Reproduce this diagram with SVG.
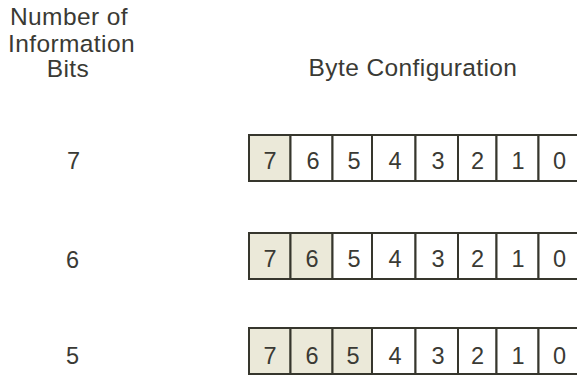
<svg xmlns="http://www.w3.org/2000/svg" width="577" height="377" viewBox="0 0 577 377">
  <defs>
    <style>
      .lbl { font-family: "Liberation Sans", Arial, sans-serif; font-size: 24.5px; letter-spacing: 0.4px; fill: #3a3a34; text-anchor: middle; }
      .dig { font-family: "Liberation Sans", Arial, sans-serif; font-size: 23.5px; fill: #3a3a34; text-anchor: middle; }
      .cell { fill: #ffffff; stroke: #36362d; stroke-width: 2; }
      .cell.on { fill: #ebe9d9; }
    </style>
  </defs>
  <rect width="577" height="377" fill="#ffffff"/>

  <!-- column headings -->
  <g id="heading-bits">
    <text class="lbl" x="69" y="25">Number of</text>
    <text class="lbl" x="71.5" y="52">Information</text>
    <text class="lbl" x="68" y="77">Bits</text>
  </g>
  <g id="heading-byte">
    <text class="lbl" x="413" y="76">Byte Configuration</text>
  </g>

  <!-- bit counts -->
  <g id="count-7"><text class="dig" x="73.5" y="168.5">7</text></g>
  <g id="count-6"><text class="dig" x="72.5" y="267.5">6</text></g>
  <g id="count-5"><text class="dig" x="72.5" y="364">5</text></g>

  <!-- byte with 7 information bits -->
  <g id="byte-7">
    <rect class="cell on" x="249" y="135" width="41.5" height="46"/>
    <rect class="cell" x="290.5" y="135" width="42" height="46"/>
    <rect class="cell" x="332.5" y="135" width="39.5" height="46"/>
    <rect class="cell" x="372" y="135" width="43.5" height="46"/>
    <rect class="cell" x="415.5" y="135" width="42.5" height="46"/>
    <rect class="cell" x="458" y="135" width="38.5" height="46"/>
    <rect class="cell" x="496.5" y="135" width="42" height="46"/>
    <rect class="cell" x="538.5" y="135" width="45" height="46"/>
    <text class="dig" x="270" y="168.5">7</text>
    <text class="dig" x="313" y="168.5">6</text>
    <text class="dig" x="354" y="168.5">5</text>
    <text class="dig" x="395" y="168.5">4</text>
    <text class="dig" x="438" y="168.5">3</text>
    <text class="dig" x="477.5" y="168.5">2</text>
    <text class="dig" x="518" y="168.5">1</text>
    <text class="dig" x="559.5" y="168.5">0</text>
  </g>

  <!-- byte with 6 information bits -->
  <g id="byte-6">
    <rect class="cell on" x="249" y="233" width="41.5" height="46"/>
    <rect class="cell on" x="290.5" y="233" width="42" height="46"/>
    <rect class="cell" x="332.5" y="233" width="39.5" height="46"/>
    <rect class="cell" x="372" y="233" width="43.5" height="46"/>
    <rect class="cell" x="415.5" y="233" width="42.5" height="46"/>
    <rect class="cell" x="458" y="233" width="38.5" height="46"/>
    <rect class="cell" x="496.5" y="233" width="42" height="46"/>
    <rect class="cell" x="538.5" y="233" width="45" height="46"/>
    <text class="dig" x="270" y="266.5">7</text>
    <text class="dig" x="312" y="266.5">6</text>
    <text class="dig" x="354" y="266.5">5</text>
    <text class="dig" x="395" y="266.5">4</text>
    <text class="dig" x="438" y="266.5">3</text>
    <text class="dig" x="477.5" y="266.5">2</text>
    <text class="dig" x="518" y="266.5">1</text>
    <text class="dig" x="559.5" y="266.5">0</text>
  </g>

  <!-- byte with 5 information bits -->
  <g id="byte-5">
    <rect class="cell on" x="249" y="328" width="41.5" height="46"/>
    <rect class="cell on" x="290.5" y="328" width="42" height="46"/>
    <rect class="cell on" x="332.5" y="328" width="39.5" height="46"/>
    <rect class="cell" x="372" y="328" width="43.5" height="46"/>
    <rect class="cell" x="415.5" y="328" width="42.5" height="46"/>
    <rect class="cell" x="458" y="328" width="38.5" height="46"/>
    <rect class="cell" x="496.5" y="328" width="42" height="46"/>
    <rect class="cell" x="538.5" y="328" width="45" height="46"/>
    <text class="dig" x="270" y="364">7</text>
    <text class="dig" x="312" y="364">6</text>
    <text class="dig" x="353" y="364">5</text>
    <text class="dig" x="395" y="364">4</text>
    <text class="dig" x="438" y="364">3</text>
    <text class="dig" x="477.5" y="364">2</text>
    <text class="dig" x="518" y="364">1</text>
    <text class="dig" x="559.5" y="364">0</text>
  </g>
</svg>
